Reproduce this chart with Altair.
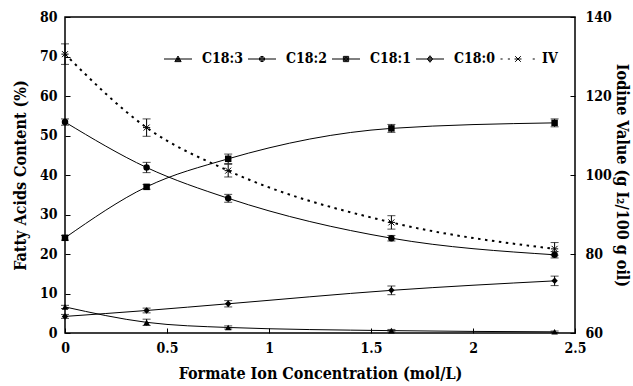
import altair as alt
import pandas as pd

# ---------------- data ----------------
conc = [0, 0.4, 0.8, 1.6, 2.4]
c183 = [6.6, 2.7, 1.4, 0.6, 0.3]
c183_err = [0.4, 0.8, 0.4, 0.3, 0.2]
c182 = [53.4, 41.9, 34.1, 24.0, 19.8]
c182_err = [0.8, 1.3, 1.0, 0.7, 0.8]
c181 = [24.1, 37.0, 44.1, 51.8, 53.2]
c181_err = [0.6, 0.6, 1.2, 1.0, 1.0]
c180 = [4.2, 5.7, 7.4, 10.8, 13.2]
c180_err = [0.5, 0.6, 0.8, 1.1, 1.2]
iv = [130.6, 112.0, 101.1, 88.0, 81.3]
iv_err = [2.6, 2.2, 1.6, 1.7, 1.6]

fatty_names = ["C18:3", "C18:2", "C18:1", "C18:0"]
series_names = fatty_names + ["IV"]
x_ticks = [0, 0.5, 1, 1.5, 2, 2.5]
left_ticks = [0, 10, 20, 30, 40, 50, 60, 70, 80]
right_ticks = [60, 80, 100, 120, 140]

# ---------------- tables ----------------
rows = []
for name, vals, errs in zip(fatty_names, [c183, c182, c181, c180],
                            [c183_err, c182_err, c181_err, c180_err]):
    for c, v, e in zip(conc, vals, errs):
        rows.append({"series": name, "conc": c, "value": v, "lo": v - e, "hi": v + e})
fa = pd.DataFrame(rows)
ivdf = pd.DataFrame({"conc": conc, "value": iv,
                     "lo": [v - e for v, e in zip(iv, iv_err)],
                     "hi": [v + e for v, e in zip(iv, iv_err)]})
legdf = pd.DataFrame({"series": series_names})

FONT = "DejaVu Serif Condensed, DejaVu Serif"

x_axis = alt.Axis(values=x_ticks, format=".1~f", title="Formate Ion Concentration (mol/L)",
                  orient="bottom", offset=-5, tickSize=5, domain=False,
                  labelPadding=8, titlePadding=10, labelFlush=False, labelOverlap=False)
left_axis = alt.Axis(values=left_ticks, title="Fatty Acids Content (%)", orient="left",
                     offset=-5, tickSize=5, domain=False, labelPadding=8, titlePadding=11,
                     labelOverlap=False)
right_axis = alt.Axis(values=right_ticks, title="Iodine Value (g I₂/100 g oil)", orient="right",
                      offset=-5, tickSize=5, domain=False, labelPadding=10, titlePadding=2,
                      labelOverlap=False)

xs = alt.Scale(domain=[0, 2.5], nice=False)
ls = alt.Scale(domain=[0, 80], nice=False)
rs = alt.Scale(domain=[60, 140], nice=False)


def X():
    return alt.X("conc:Q", scale=xs, axis=x_axis)


def YL(f):
    return alt.Y(f"{f}:Q", scale=ls, axis=left_axis)


def YR(f):
    return alt.Y(f"{f}:Q", scale=rs, axis=right_axis)


# ----- left (fatty acids) -----
fa_base = alt.Chart(fa)
fa_line = fa_base.mark_line(color="black", strokeWidth=1, interpolate="monotone").encode(
    x=X(), y=YL("value"), detail="series:N")
fa_err = fa_base.mark_rule(color="black", strokeWidth=1).encode(
    x=X(), y=YL("lo"), y2="hi:Q")
fa_cap_lo = fa_base.mark_tick(color="black", orient="horizontal", size=8, thickness=1).encode(
    x=X(), y=YL("lo"))
fa_cap_hi = fa_base.mark_tick(color="black", orient="horizontal", size=8, thickness=1).encode(
    x=X(), y=YL("hi"))
fa_pts = fa_base.mark_point(filled=True, color="black", opacity=1, size=42).encode(
    x=X(), y=YL("value"),
    shape=alt.Shape("series:N", scale=alt.Scale(domain=fatty_names,
                    range=["triangle-up", "circle", "square", "diamond"]), legend=None))
left = alt.layer(fa_line, fa_err, fa_cap_lo, fa_cap_hi, fa_pts)

# ----- right (iodine value) -----
AST = "M-1,-1L1,1M-1,1L1,-1M-1.2,0H1.2"
iv_base = alt.Chart(ivdf)
iv_line = iv_base.mark_line(color="black", strokeWidth=2, strokeDash=[2.5, 4.5],
                            interpolate="monotone").encode(x=X(), y=YR("value"))
iv_err_r = iv_base.mark_rule(color="black", strokeWidth=1).encode(x=X(), y=YR("lo"), y2="hi:Q")
iv_cap_lo = iv_base.mark_tick(color="black", orient="horizontal", size=8, thickness=1).encode(
    x=X(), y=YR("lo"))
iv_cap_hi = iv_base.mark_tick(color="black", orient="horizontal", size=8, thickness=1).encode(
    x=X(), y=YR("hi"))
iv_pts = iv_base.mark_point(filled=False, color="black", opacity=1, size=36, strokeWidth=1).encode(
    x=X(), y=YR("value"), shape=alt.value(AST))
right = alt.layer(iv_line, iv_err_r, iv_cap_lo, iv_cap_hi, iv_pts)

# ----- legend (line + marker symbols, stroked; nested outlines look filled) -----
leg_paths = [
    "M-4,0H4M-0.9,0.75L0,-0.85L0.9,0.75ZM-0.55,0.5L0,-0.4L0.55,0.5ZM-0.2,0.3L0,-0.05L0.2,0.3Z",
    "M-4,0H4M-0.75,0A0.75,0.75,0,1,1,0.75,0A0.75,0.75,0,1,1,-0.75,0Z"
    "M-0.45,0A0.45,0.45,0,1,1,0.45,0A0.45,0.45,0,1,1,-0.45,0Z"
    "M-0.15,0A0.15,0.15,0,1,1,0.15,0A0.15,0.15,0,1,1,-0.15,0Z",
    "M-4,0H4M-0.75,-0.75H0.75V0.75H-0.75ZM-0.45,-0.45H0.45V0.45H-0.45ZM-0.15,-0.15H0.15V0.15H-0.15Z",
    "M-4,0H4M0,-0.95L0.75,0L0,0.95L-0.75,0ZM0,-0.55L0.4,0L0,0.55L-0.4,0Z",
    "M-5,0H-4.4M-2.9,0H-2.3M4.2,0H4.8M-0.8,-0.8L0.8,0.8M-0.8,0.8L0.8,-0.8M-1,0H1",
]
legend_layer = alt.Chart(legdf).mark_point(
    opacity=0, filled=False, color="black", strokeWidth=1, size=49
).encode(
    x=alt.value(0), y=alt.value(0),
    shape=alt.Shape("series:N", scale=alt.Scale(domain=series_names, range=leg_paths),
                    legend=alt.Legend(title=None, orient="none", direction="horizontal",
                                      legendX=106, legendY=35, padding=0,
                                      symbolSize=49, symbolStrokeColor="black",
                                      symbolStrokeWidth=1,
                                      symbolOpacity=1, labelOffset=17, columnPadding=3,
                                      labelFont=FONT, labelFontSize=14,
                                      labelFontWeight="bold",
                                      labelColor="black", labelLimit=0)))

chart = alt.layer(left, right, legend_layer).resolve_scale(
    y="independent", shape="independent"
).properties(
    width=510, height=316,
    autosize=alt.AutoSizeParams(type="none"),
    padding={"left": 65, "top": 17, "right": 58, "bottom": 53},
    background="white",
).configure_view(
    stroke="black", strokeWidth=1.5
).configure_axis(
    grid=False, labelFont=FONT, labelFontSize=14, labelFontWeight="bold", labelColor="black",
    titleFont=FONT, titleFontSize=16, titleFontWeight="bold", titleColor="black",
    tickColor="black", tickWidth=1,
)

chart.save("out.html", embed_options={"renderer": "svg", "actions": False})
